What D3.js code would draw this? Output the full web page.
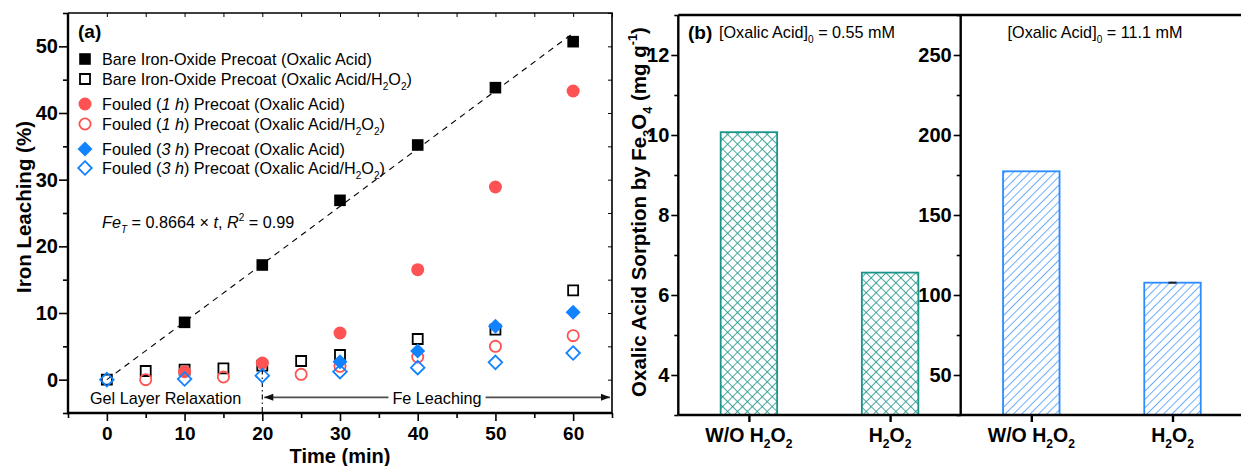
<!DOCTYPE html>
<html>
<head>
<meta charset="utf-8">
<script src="https://cdn.jsdelivr.net/npm/d3@7"></script>
<style>
  body { margin: 0; background: #fff; }
  svg { display: block; font-family: "Liberation Sans", Arial, sans-serif; }
</style>
</head>
<body>
<div id="chart"></div>
<script>
// ---- panel (a) data: iron leaching (%) vs time (min)
var bareOA_t = [10, 20, 30, 40, 50, 60]
var bareOA_v = [8.6, 17.2, 26.9, 35.2, 43.8, 50.7]
var bareH2O2_t = [0, 5, 10, 15, 20, 25, 30, 40, 50, 60]
var bareH2O2_v = [0, 1.3, 1.5, 1.7, 2.1, 2.8, 3.7, 6.1, 7.5, 13.4]
var foul1OA_t = [10, 20, 30, 40, 50, 60]
var foul1OA_v = [1.2, 2.5, 7.0, 16.5, 28.9, 43.3]
var foul1H2O2_t = [5, 15, 25, 30, 40, 50, 60]
var foul1H2O2_v = [0, 0.4, 0.8, 2.0, 3.4, 5.0, 6.6]
var foul3OA_t = [30, 40, 50, 60]
var foul3OA_v = [2.7, 4.3, 8.0, 10.1]
var foul3H2O2_t = [0, 10, 20, 30, 40, 50, 60]
var foul3H2O2_v = [0, 0.1, 0.6, 1.2, 1.8, 2.6, 4.0]
var fitSlope = 0.8664
var fitRange = [0, 60]

var xTicksA = [0, 10, 20, 30, 40, 50, 60]
var xMinorA = [-5, 5, 15, 25, 35, 45, 55, 65]
var yTicksA = [0, 10, 20, 30, 40, 50]
var yMinorA = [-5, 5, 15, 25, 35, 45, 55]

// ---- panel (b) data: oxalic acid sorption (mg/g)
var conditions = ['W/O H2O2', 'H2O2']
var sorptionLow = [10.07, 6.56]    // [OA]0 = 0.55 mM
var sorptionHigh = [177.3, 107.7]  // [OA]0 = 11.1 mM
var errHigh = [0, 0.4]
var yTicksB1 = [4, 6, 8, 10, 12]
var yMinorB1 = [3, 5, 7, 9, 11, 13]
var yTicksB2 = [50, 100, 150, 200, 250]
var yMinorB2 = [25, 75, 125, 175, 225, 275]

var RED = '#ff5252'
var BLUE = '#1283ff'
var TEAL = '#1a9389'
var HBLUE = '#2b8cff'

var width = 1241
var height = 466
var LEGFS = 16.2

var svg = d3.select('#chart').append('svg')
    .attr('width', width)
    .attr('height', height)

// text with sub/superscripts and italics
function rich (sel, parts, fs) {
  var shift = 0
  parts.forEach(function (p) {
    var kind = p[1] || ''
    var target = 0
    var size = fs
    if (kind.indexOf('sub') >= 0) { target = fs * 0.3; size = fs * 0.62 }
    if (kind.indexOf('sup') >= 0) { target = -fs * 0.42; size = fs * 0.62 }
    var t = sel.append('tspan').text(p[0])
      .attr('dy', target - shift)
      .attr('font-size', size)
    if (kind.indexOf('i') === 0) t.attr('font-style', 'italic')
    shift = target
  })
  return sel
}

function markerPath (shape, s) {
  if (shape === 'square') return 'M' + (-s) + ',' + (-s) + 'h' + 2 * s + 'v' + 2 * s + 'h' + (-2 * s) + 'Z'
  if (shape === 'diamond') return 'M0,' + (-s) + 'L' + s + ',0L0,' + s + 'L' + (-s) + ',0Z'
  return d3.symbol(d3.symbolCircle, Math.PI * s * s)()
}

var series = [
  {t: bareOA_t, v: bareOA_v, shape: 'square', size: 5.8, color: '#000', filled: true,
   label: [['Bare Iron-Oxide Precoat (Oxalic Acid)']]},
  {t: bareH2O2_t, v: bareH2O2_v, shape: 'square', size: 5, color: '#000', filled: false,
   label: [['Bare Iron-Oxide Precoat (Oxalic Acid/H'], ['2', 'sub'], ['O'], ['2', 'sub'], [')']]},
  {t: foul1OA_t, v: foul1OA_v, shape: 'circle', size: 6.5, color: RED, filled: true,
   label: [['Fouled ('], ['1 h', 'i'], [') Precoat (Oxalic Acid)']]},
  {t: foul1H2O2_t, v: foul1H2O2_v, shape: 'circle', size: 5.6, color: RED, filled: false,
   label: [['Fouled ('], ['1 h', 'i'], [') Precoat (Oxalic Acid/H'], ['2', 'sub'], ['O'], ['2', 'sub'], [')']]},
  {t: foul3OA_t, v: foul3OA_v, shape: 'diamond', size: 7.5, color: BLUE, filled: true,
   label: [['Fouled ('], ['3 h', 'i'], [') Precoat (Oxalic Acid)']]},
  {t: foul3H2O2_t, v: foul3H2O2_v, shape: 'diamond', size: 6.8, color: BLUE, filled: false,
   label: [['Fouled ('], ['3 h', 'i'], [') Precoat (Oxalic Acid/H'], ['2', 'sub'], ['O'], ['2', 'sub'], [')']]}
]

// ================= panel (a)
var pa = {left: 68, right: 612, top: 13, bottom: 413}
var xA = d3.scaleLinear().domain([-5, 65]).range([pa.left, pa.right])
var yA = d3.scaleLinear().domain([-5, 55]).range([pa.bottom, pa.top])

var gA = svg.append('g')

function styleAxis (g, fs) {
  g.select('.domain').remove()
  g.selectAll('.tick line').attr('stroke', '#000').attr('stroke-width', 1.6)
  g.selectAll('.tick text').attr('font-size', fs).attr('font-weight', 'bold')
    .attr('fill', '#000').attr('font-family', '"Liberation Sans", Arial, sans-serif')
}

// major/minor ticks, outward on left & bottom
gA.append('g').attr('transform', 'translate(' + pa.left + ',0)')
  .call(d3.axisLeft(yA).tickValues(yTicksA).tickSize(9).tickPadding(1))
  .call(styleAxis, 20)
gA.append('g').attr('transform', 'translate(' + pa.left + ',0)')
  .call(d3.axisLeft(yA).tickValues(yMinorA).tickSize(5).tickFormat(''))
  .call(styleAxis, 20)
gA.append('g').attr('transform', 'translate(0,' + pa.bottom + ')')
  .call(d3.axisBottom(xA).tickValues(xTicksA).tickSize(8).tickPadding(6))
  .call(styleAxis, 19)
gA.append('g').attr('transform', 'translate(0,' + pa.bottom + ')')
  .call(d3.axisBottom(xA).tickValues(xMinorA).tickSize(5).tickFormat(''))
  .call(styleAxis, 19)
// inward ticks on top & right
gA.append('g').attr('transform', 'translate(' + pa.right + ',0)')
  .call(d3.axisLeft(yA).tickValues(yTicksA.concat(yMinorA)).tickSize(4).tickFormat(''))
  .call(styleAxis, 20)
  .selectAll('.tick line').attr('stroke-width', 1)
gA.append('g').attr('transform', 'translate(0,' + pa.top + ')')
  .call(d3.axisBottom(xA).tickValues(xTicksA.concat(xMinorA)).tickSize(4).tickFormat(''))
  .call(styleAxis, 20)
  .selectAll('.tick line').attr('stroke-width', 1)

// frame
gA.append('path')
  .attr('d', 'M' + pa.left + ',' + pa.top + 'H' + pa.right + 'V' + pa.bottom)
  .attr('fill', 'none').attr('stroke', '#000').attr('stroke-width', 1.6)
gA.append('path')
  .attr('d', 'M' + pa.left + ',' + pa.top + 'V' + pa.bottom + 'H' + pa.right)
  .attr('fill', 'none').attr('stroke', '#000').attr('stroke-width', 2.4)

// fit line
gA.append('line')
  .attr('x1', xA(fitRange[0])).attr('y1', yA(fitSlope * fitRange[0]))
  .attr('x2', xA(fitRange[1])).attr('y2', yA(fitSlope * fitRange[1]))
  .attr('stroke', '#000').attr('stroke-width', 1.1).attr('stroke-dasharray', '6,5')

// dash-dot separator at t = 20
gA.append('line')
  .attr('x1', xA(20)).attr('x2', xA(20))
  .attr('y1', yA(3.4)).attr('y2', yA(-5))
  .attr('stroke', '#000').attr('stroke-width', 1.1).attr('stroke-dasharray', '5,3,1.5,3')

// annotations
gA.append('text').attr('x', 90).attr('y', 404).attr('font-size', LEGFS)
  .text('Gel Layer Relaxation')

var arrowY = yA(-2.65)
var feText = gA.append('text').attr('x', 437).attr('y', 404).attr('font-size', LEGFS)
  .attr('text-anchor', 'middle').text('Fe Leaching')
var feW = feText.node().getComputedTextLength()
var gray = '#4d4d4d'
gA.append('line').attr('x1', xA(20) + 2).attr('x2', 437 - feW / 2 - 4)
  .attr('y1', arrowY).attr('y2', arrowY).attr('stroke', gray).attr('stroke-width', 1.6)
gA.append('line').attr('x1', 437 + feW / 2 + 4).attr('x2', pa.right - 2)
  .attr('y1', arrowY).attr('y2', arrowY).attr('stroke', gray).attr('stroke-width', 1.6)
gA.append('path')
  .attr('d', 'M' + (xA(20) + 2) + ',' + arrowY + 'l9,-3.5v7Z').attr('fill', '#111')
gA.append('path')
  .attr('d', 'M' + (pa.right - 2) + ',' + arrowY + 'l-9,-3.5v7Z').attr('fill', '#111')

// markers
series.forEach(function (s) {
  var pts = s.t.map(function (t, i) { return [t, s.v[i]] })
  gA.append('g').selectAll('path').data(pts).enter().append('path')
    .attr('transform', function (d) { return 'translate(' + xA(d[0]) + ',' + yA(d[1]) + ')' })
    .attr('d', markerPath(s.shape, s.size))
    .attr('fill', s.filled ? s.color : 'none')
    .attr('stroke', s.filled ? 'none' : s.color)
    .attr('stroke-width', 1.8)
})

// legend
var legY = [59, 79, 104, 124, 149, 168]
series.forEach(function (s, i) {
  gA.append('path')
    .attr('transform', 'translate(85,' + legY[i] + ')')
    .attr('d', markerPath(s.shape, s.size))
    .attr('fill', s.filled ? s.color : 'none')
    .attr('stroke', s.filled ? 'none' : s.color)
    .attr('stroke-width', 1.8)
  var t = gA.append('text').attr('x', 102).attr('y', legY[i] + 5.8).attr('font-size', LEGFS)
  rich(t, s.label, LEGFS)
})

gA.append('text').attr('x', 78).attr('y', 38).attr('font-size', 19).attr('font-weight', 'bold').text('(a)')

rich(gA.append('text').attr('x', 102).attr('y', 228).attr('font-size', LEGFS),
  [['Fe', 'i'], ['T', 'isub'], [' = 0.8664 \u00d7 '], ['t', 'i'], [', '], ['R', 'i'], ['2', 'sup'], [' = 0.99']], LEGFS)

// axis titles
gA.append('text').attr('x', 340).attr('y', 462.5).attr('text-anchor', 'middle')
  .attr('font-size', 20).attr('font-weight', 'bold').text('Time (min)')
gA.append('text').attr('transform', 'translate(31,207) rotate(-90)').attr('text-anchor', 'middle')
  .attr('font-size', 20.5).attr('font-weight', 'bold').text('Iron Leaching (%)')

// ================= panel (b)
var pb = {left: 678.3, mid: 960.7, right: 1243.1, top: 15, bottom: 415}
var defs = svg.append('defs')
var cross = defs.append('pattern').attr('id', 'cross')
  .attr('patternUnits', 'userSpaceOnUse').attr('width', 7).attr('height', 7)
  .attr('patternTransform', 'rotate(45)')
cross.append('rect').attr('width', 7).attr('height', 7).attr('fill', '#fff')
cross.append('line').attr('x1', 0).attr('y1', 0).attr('x2', 0).attr('y2', 7)
  .attr('stroke', TEAL).attr('stroke-width', 1.6)
cross.append('line').attr('x1', 0).attr('y1', 0).attr('x2', 7).attr('y2', 0)
  .attr('stroke', TEAL).attr('stroke-width', 1.6)
var diag = defs.append('pattern').attr('id', 'diag')
  .attr('patternUnits', 'userSpaceOnUse').attr('width', 5.9).attr('height', 5.9)
  .attr('patternTransform', 'rotate(45)')
diag.append('rect').attr('width', 5.9).attr('height', 5.9).attr('fill', '#fff')
diag.append('line').attr('x1', 0).attr('y1', 0).attr('x2', 0).attr('y2', 5.9)
  .attr('stroke', HBLUE).attr('stroke-width', 1.4)

var panelsB = [
  {x0: pb.left, x1: pb.mid, dom: [3, 13], vals: sorptionLow, err: [0, 0], ticks: yTicksB1, minor: yMinorB1,
   fill: 'url(#cross)', color: TEAL},
  {x0: pb.mid, x1: pb.right, dom: [25, 275], vals: sorptionHigh, err: errHigh, ticks: yTicksB2, minor: yMinorB2,
   fill: 'url(#diag)', color: HBLUE}
]

var gB = svg.append('g')
panelsB.forEach(function (p) {
  var x = d3.scalePoint().domain(conditions).range([p.x0, p.x1]).padding(0.5)
  var y = d3.scaleLinear().domain(p.dom).range([pb.bottom, pb.top])
  var bw = x.step() * 0.4
  var rows = conditions.map(function (c, i) { return {c: c, v: p.vals[i], e: p.err[i]} })
  gB.append('g').selectAll('rect').data(rows).enter().append('rect')
    .attr('x', function (d) { return x(d.c) - bw / 2 })
    .attr('y', function (d) { return y(d.v) })
    .attr('width', bw)
    .attr('height', function (d) { return pb.bottom - y(d.v) })
    .attr('fill', p.fill).attr('stroke', p.color).attr('stroke-width', 1.8)
  gB.append('g').selectAll('line').data(rows.filter(function (d) { return d.e > 0 })).enter()
    .append('line')
    .attr('x1', function (d) { return x(d.c) - 4 })
    .attr('x2', function (d) { return x(d.c) + 4 })
    .attr('y1', function (d) { return y(d.v) }).attr('y2', function (d) { return y(d.v) })
    .attr('stroke', '#222').attr('stroke-width', 2)

  gB.append('g').attr('transform', 'translate(' + p.x0 + ',0)')
    .call(d3.axisLeft(y).tickValues(p.ticks).tickSize(7).tickPadding(2))
    .call(styleAxis, 20)
  gB.append('g').attr('transform', 'translate(' + p.x0 + ',0)')
    .call(d3.axisLeft(y).tickValues(p.minor).tickSize(4).tickFormat(''))
    .call(styleAxis, 20)

  var xa = gB.append('g').attr('transform', 'translate(0,' + pb.bottom + ')')
    .call(d3.axisBottom(x).tickSize(7).tickFormat(''))
    .call(styleAxis, 20)
  xa.selectAll('.tick line').attr('stroke-width', 2.4)
  conditions.forEach(function (c) {
    var t = gB.append('text').attr('x', x(c)).attr('y', 442).attr('text-anchor', 'middle')
      .attr('font-size', 19.5).attr('font-weight', 'bold')
    if (c === 'W/O H2O2') rich(t, [['W/O H'], ['2', 'sub'], ['O'], ['2', 'sub']], 19.5)
    else rich(t, [['H'], ['2', 'sub'], ['O'], ['2', 'sub']], 19.5)
  })

  gB.append('line').attr('x1', p.x0).attr('x2', p.x0).attr('y1', pb.top).attr('y2', pb.bottom)
    .attr('stroke', '#000').attr('stroke-width', 2.4)
})

gB.append('path')
  .attr('d', 'M' + pb.left + ',' + pb.top + 'H' + width)
  .attr('stroke', '#000').attr('stroke-width', 2.4)
gB.append('path')
  .attr('d', 'M' + pb.left + ',' + pb.bottom + 'H' + width)
  .attr('stroke', '#000').attr('stroke-width', 2.4)

gB.append('text').attr('x', 688).attr('y', 39).attr('font-size', 19).attr('font-weight', 'bold').text('(b)')
rich(gB.append('text').attr('x', 719).attr('y', 38).attr('font-size', LEGFS),
  [['[Oxalic Acid]'], ['0', 'sub'], [' = 0.55 mM']], LEGFS)
rich(gB.append('text').attr('x', 1095).attr('y', 38).attr('font-size', LEGFS).attr('text-anchor', 'middle'),
  [['[Oxalic Acid]'], ['0', 'sub'], [' = 11.1 mM']], LEGFS)

rich(gB.append('text').attr('transform', 'translate(646,212) rotate(-90)').attr('text-anchor', 'middle')
  .attr('font-size', 20.5).attr('font-weight', 'bold'),
  [['Oxalic Acid Sorption by Fe'], ['3', 'sub'], ['O'], ['4', 'sub'], [' (mg g'], ['-1', 'sup'], [')']], 20.5)
</script>
</body>
</html>
